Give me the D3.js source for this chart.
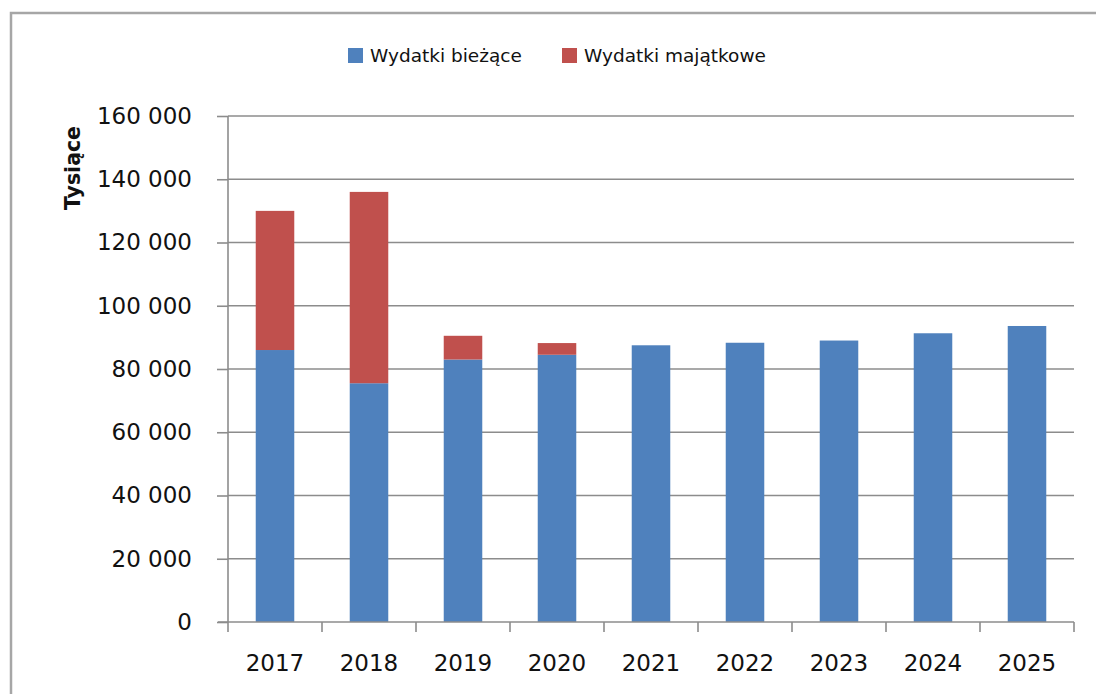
<!DOCTYPE html>
<html>
<head>
<meta charset="utf-8">
<script src="https://cdn.jsdelivr.net/npm/d3@7"></script>
<style>
  body { margin: 0; background: #fff; }
  text { font-family: "DejaVu Sans", sans-serif; fill: #111; }
</style>
</head>
<body>
<script>
// data
var years = ["2017", "2018", "2019", "2020", "2021", "2022", "2023", "2024", "2025"];
var biezace = [86000, 75500, 83000, 84500, 87500, 88300, 89000, 91300, 93600];
var majatkowe = [44000, 60500, 7500, 3700, 0, 0, 0, 0, 0];
var seriesNames = ["Wydatki bieżące", "Wydatki majątkowe"];
var colors = ["#4f81bd", "#c0504d"];
var yTicks = [0, 20000, 40000, 60000, 80000, 100000, 120000, 140000, 160000];

var margin = {top: 116, right: 22, bottom: 72, left: 228},
    width = 1096 - margin.left - margin.right,
    height = 694 - margin.top - margin.bottom;

var svg = d3.select("body").append("svg")
    .attr("width", 1096)
    .attr("height", 694);

// outer chart frame
svg.append("rect")
    .attr("x", 11).attr("y", 13)
    .attr("width", 1110).attr("height", 700)
    .attr("fill", "none")
    .attr("stroke", "#a6a6a6")
    .attr("stroke-width", 2.5);

var g = svg.append("g")
    .attr("transform", "translate(" + margin.left + "," + margin.top + ")");

var x = d3.scaleBand().domain(years).range([0, width]).paddingInner(0.59).paddingOuter(0.295);
var xb = d3.scaleBand().domain(years).range([0, width]);
var y = d3.scaleLinear().domain([0, 160000]).range([height, 0]);

var fmt = d3.formatLocale({decimal: ",", thousands: " ", grouping: [3], currency: ["", ""]}).format(",d");

// gridlines
g.selectAll(".grid")
    .data(yTicks.filter(function(d) { return d > 0; }))
  .enter().append("line")
    .attr("x1", 0).attr("x2", width)
    .attr("y1", function(d) { return y(d); })
    .attr("y2", function(d) { return y(d); })
    .attr("stroke", "#8c8c8c")
    .attr("stroke-width", 1.6);

// stacked bars
var stackData = years.map(function(yr, i) { return {year: yr, b: biezace[i], m: majatkowe[i]}; });
var stack = d3.stack().keys(["b", "m"])(stackData);

g.selectAll(".series")
    .data(stack)
  .enter().append("g")
    .attr("fill", function(d, i) { return colors[i]; })
  .selectAll("rect")
    .data(function(d) { return d.filter(function(p) { return p[1] > p[0]; }); })
  .enter().append("rect")
    .attr("x", function(d) { return x(d.data.year); })
    .attr("width", x.bandwidth())
    .attr("y", function(d) { return y(d[1]); })
    .attr("height", function(d) { return y(d[0]) - y(d[1]); });

// y axis
var yAxis = g.append("g")
    .call(d3.axisLeft(y).tickValues(yTicks).tickFormat(fmt).tickSize(11).tickPadding(25));
yAxis.selectAll("line, path").attr("stroke", "#8c8c8c").attr("stroke-width", 1.6);
yAxis.select(".domain").attr("d", "M0," + height + "V0");
yAxis.selectAll("text").style("font-size", "23px").attr("fill", "#111");

// x axis, ticks at band edges
var xAxis = g.append("g")
    .attr("transform", "translate(0," + height + ")");
xAxis.append("line")
    .attr("x1", -10).attr("x2", width)
    .attr("stroke", "#8c8c8c").attr("stroke-width", 1.6);
xAxis.selectAll(".tk")
    .data(years.concat(["end"]))
  .enter().append("line")
    .attr("x1", function(d, i) { return i * xb.step(); })
    .attr("x2", function(d, i) { return i * xb.step(); })
    .attr("y1", 0).attr("y2", 10)
    .attr("stroke", "#8c8c8c").attr("stroke-width", 1.6);
xAxis.selectAll(".lbl")
    .data(years)
  .enter().append("text")
    .attr("x", function(d) { return xb(d) + xb.bandwidth() / 2; })
    .attr("y", 49)
    .attr("text-anchor", "middle")
    .style("font-size", "23px")
    .text(function(d) { return d; });

// y label
svg.append("text")
    .attr("transform", "translate(80,168) rotate(-90)")
    .attr("text-anchor", "middle")
    .style("font-size", "20.5px")
    .style("font-weight", "bold")
    .text("Tysiące");

// legend
var legendX = [348, 562];
var legend = svg.selectAll(".legend")
    .data(seriesNames)
  .enter().append("g")
    .attr("transform", function(d, i) { return "translate(" + legendX[i] + ",48)"; });
legend.append("rect")
    .attr("width", 15).attr("height", 15)
    .attr("fill", function(d, i) { return colors[i]; });
legend.append("text")
    .attr("x", 22).attr("y", 14)
    .style("font-size", "18.5px")
    .text(function(d) { return d; });
</script>
</body>
</html>
